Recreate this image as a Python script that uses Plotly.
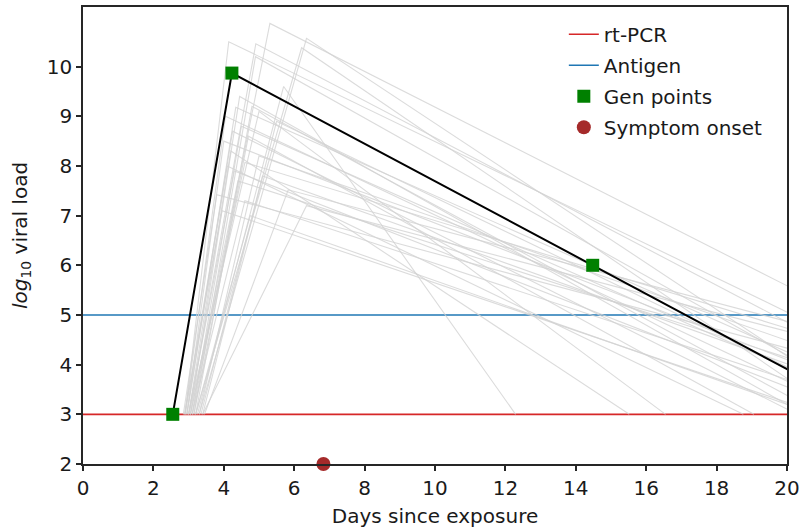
import plotly.graph_objects as go

# ---- data ----
PCR_THRESHOLD = 3
ANTIGEN_THRESHOLD = 5
X_LIMITS = [0, 20]

# generated (highlighted) trajectory: onset, peak, later point
gen_days = [2.55, 4.23, 14.48]
gen_vl = [3.0, 9.87, 6.0]
gen_tail_day = 22.4   # where the highlighted trajectory returns to threshold
symptom_day = [6.83]
symptom_vl = [2.0]

# background trajectories: start day, peak day, peak value, end day (back to 3)
bg_start = [2.90, 3.10, 3.00, 3.30, 3.20, 3.00, 2.95, 3.25, 3.05, 3.45, 3.40, 2.85,
            2.95, 3.00, 3.10, 3.00, 3.15, 2.90, 3.20, 3.05, 3.30, 2.95, 3.10, 3.35,
            2.90, 3.15, 2.88, 3.05, 3.40, 3.20]
bg_peak_day = [4.14, 5.31, 4.91, 6.35, 6.21, 5.00, 4.34, 5.70, 4.60, 5.83, 6.35, 3.80,
               4.00, 4.20, 4.50, 4.30, 4.70, 4.10, 4.80, 4.40, 5.00, 4.25, 4.60, 5.10,
               4.05, 4.90, 3.95, 4.45, 5.50, 4.75]
bg_peak_vl = [10.50, 10.87, 10.46, 10.57, 10.38, 9.10, 9.18, 9.60, 8.07, 7.52, 7.20, 7.42,
              8.50, 8.30, 8.80, 7.90, 8.60, 8.00, 9.20, 7.70, 8.20, 8.70, 7.30, 7.80,
              9.00, 10.20, 7.10, 9.40, 8.90, 7.00]
bg_end_day = [26.0, 27.2, 25.0, 22.5, 21.5, 16.55, 24.0, 12.29, 28.0, 30.0, 29.0, 27.0,
              24.0, 15.52, 23.0, 22.0, 19.06, 18.76, 21.0, 25.0, 26.0, 20.3, 23.0, 24.0,
              22.0, 23.0, 21.0, 20.5, 22.8, 20.8]

y_ticks = [2, 3, 4, 5, 6, 7, 8, 9, 10]
x_ticks = list(range(0, 21, 2))

FONT = "DejaVu Sans"
fs = 20

fig = go.Figure()

fig.add_trace(go.Scatter(x=X_LIMITS, y=[PCR_THRESHOLD] * 2, mode="lines",
                         line=dict(color="#d62728", width=1.6), name="rt-PCR",
                         legendgroup="a"))
fig.add_trace(go.Scatter(x=X_LIMITS, y=[ANTIGEN_THRESHOLD] * 2, mode="lines",
                         line=dict(color="#1f77b4", width=1.6), name="Antigen",
                         legendgroup="b"))

for s, pd_, pv, e in zip(bg_start, bg_peak_day, bg_peak_vl, bg_end_day):
    fig.add_trace(go.Scatter(x=[s, pd_, e], y=[PCR_THRESHOLD, pv, PCR_THRESHOLD],
                             mode="lines", line=dict(color="rgba(210,210,210,0.8)", width=1.1),
                             showlegend=False, hoverinfo="skip"))

fig.add_trace(go.Scatter(x=gen_days + [gen_tail_day], y=gen_vl + [PCR_THRESHOLD],
                         mode="lines", line=dict(color="black", width=2),
                         showlegend=False))
fig.add_trace(go.Scatter(x=gen_days, y=gen_vl, mode="markers",
                         marker=dict(symbol="square", color="green", size=13),
                         name="Gen points", legendgroup="c"))
fig.add_trace(go.Scatter(x=symptom_day, y=symptom_vl, mode="markers",
                         marker=dict(symbol="circle", color="#a52a2a", size=14),
                         name="Symptom onset", legendgroup="d", cliponaxis=False))

axis_common = dict(showline=True, mirror=True, linecolor="#262626", linewidth=1.5,
                   ticks="outside", ticklen=5, tickwidth=1.5, tickcolor="#262626",
                   showgrid=False, zeroline=False, automargin=False,
                   tickfont=dict(family=FONT, size=fs, color="#1a1a1a"))

fig.update_layout(
    width=801, height=529,
    margin=dict(l=83, r=14, t=7, b=65),
    paper_bgcolor="white", plot_bgcolor="white",
    font=dict(family=FONT, size=fs, color="#1a1a1a"),
    xaxis=dict(range=X_LIMITS, tickvals=x_ticks, **axis_common,
               title=dict(text="Days since exposure", font=dict(family=FONT, size=fs), standoff=10)),
    yaxis=dict(range=[2, 11.2], tickvals=y_ticks, **axis_common,
               title=dict(text="<i>log</i><sub>10</sub> viral load",
                          font=dict(family=FONT, size=fs), standoff=14)),
    legend=dict(x=0.683, y=0.983, xanchor="left", yanchor="top",
                bgcolor="rgba(0,0,0,0)", font=dict(family=FONT, size=fs),
                traceorder="grouped", tracegroupgap=2),
    showlegend=True,
)

fig.write_html("out.html")
